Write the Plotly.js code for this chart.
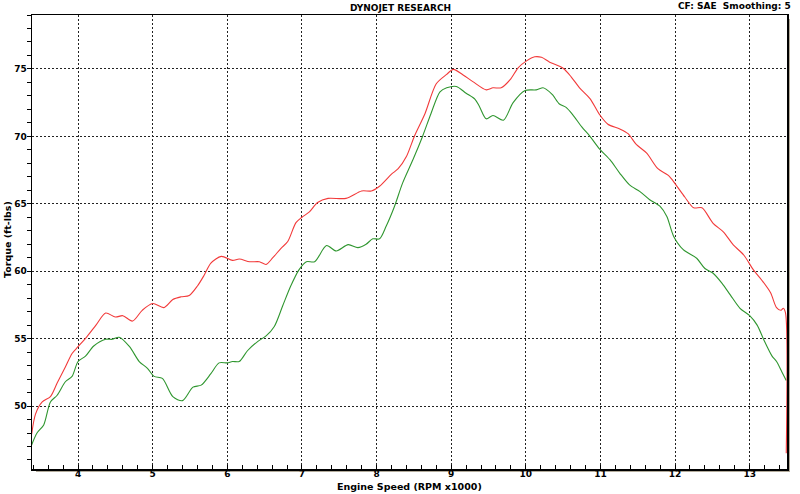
<!DOCTYPE html>
<html>
<head>
<meta charset="utf-8">
<script src="https://cdn.plot.ly/plotly-3.0.1.min.js"></script>
<style>html,body{margin:0;padding:0;background:#fff;}#chart{width:800px;height:494px;}</style>
</head>
<body>
<div id="chart"></div>
<script>
// Run 1 (red)
const rpmRed = [3.378,3.43,3.52,3.63,3.72,3.83,3.92,4.0,4.12,4.24,4.37,4.5,4.6,4.73,4.86,5.0,5.15,5.27,5.38,5.49,5.6,5.69,5.78,5.92,6.07,6.16,6.3,6.43,6.52,6.61,6.72,6.81,6.92,7.0,7.1,7.21,7.35,7.59,7.8,7.93,8.04,8.2,8.29,8.4,8.51,8.65,8.8,8.94,9.03,9.16,9.29,9.47,9.56,9.67,9.79,9.9,10.01,10.12,10.21,10.32,10.5,10.61,10.72,10.86,10.99,11.1,11.26,11.37,11.48,11.62,11.77,11.91,12.0,12.13,12.25,12.36,12.51,12.65,12.78,12.92,13.05,13.16,13.28,13.36,13.42,13.45,13.48,13.49];
const torqueRed = [47.9,49.4,50.3,50.7,51.7,52.9,53.9,54.4,55.15,56.0,56.9,56.6,56.7,56.3,57.1,57.6,57.3,57.9,58.1,58.2,58.9,59.7,60.6,61.1,60.8,60.9,60.7,60.7,60.5,61.0,61.7,62.2,63.6,64.0,64.4,65.1,65.4,65.4,65.95,65.95,66.3,67.2,67.6,68.5,70.05,71.7,73.9,74.6,74.97,74.55,74.06,73.45,73.6,73.6,74.2,75.1,75.6,75.9,75.86,75.5,75.05,74.4,73.6,72.8,71.6,70.9,70.55,70.2,69.4,68.75,67.6,67.1,66.5,65.5,64.7,64.7,63.55,62.9,61.95,61.2,60.1,59.35,58.4,57.3,57.1,57.25,56.9,46.5];
// Run 2 (green)
const rpmGreen = [3.37,3.45,3.54,3.63,3.72,3.83,3.92,4.0,4.1,4.21,4.37,4.46,4.55,4.69,4.82,4.93,5.02,5.13,5.27,5.4,5.54,5.65,5.78,5.89,6.0,6.07,6.16,6.27,6.41,6.52,6.63,6.74,6.85,6.96,7.06,7.17,7.33,7.46,7.62,7.75,7.86,7.95,8.04,8.13,8.24,8.35,8.49,8.62,8.73,8.85,8.94,9.07,9.2,9.32,9.38,9.47,9.56,9.7,9.83,9.99,10.14,10.23,10.27,10.36,10.45,10.54,10.63,10.75,10.86,10.99,11.13,11.26,11.39,11.53,11.66,11.8,11.89,11.98,12.11,12.29,12.4,12.51,12.63,12.74,12.87,13.0,13.1,13.19,13.3,13.36,13.43,13.49];
const torqueGreen = [47.0,48.0,48.6,50.3,50.8,51.8,52.2,53.3,53.7,54.45,54.95,54.95,55.1,54.4,53.3,52.8,52.2,52.05,50.7,50.4,51.4,51.55,52.4,53.2,53.2,53.3,53.3,54.1,54.8,55.2,55.9,57.4,58.9,60.1,60.7,60.7,61.9,61.5,61.97,61.75,62.0,62.4,62.4,63.35,64.8,66.55,68.3,70.05,71.7,73.3,73.6,73.7,73.2,72.75,72.2,71.3,71.55,71.2,72.5,73.4,73.45,73.6,73.5,73.07,72.4,72.15,71.6,70.7,70.0,69.05,68.25,67.26,66.4,65.9,65.3,64.8,64.05,62.6,61.6,60.96,60.2,59.85,59.1,58.24,57.25,56.7,56.0,54.9,53.7,53.3,52.55,51.9];

const xTickVals = [4,5,6,7,8,9,10,11,12,13];
const yTickVals = [50,55,60,65,70,75];

const FONT = 'Tahoma, "DejaVu Sans", Verdana, sans-serif';

const traces = [
  {x: rpmGreen, y: torqueGreen, type: 'scatter', mode: 'lines', line: {color: '#2f962f', width: 1.1, shape: 'spline', smoothing: 0.8}, hoverinfo: 'skip'},
  {x: rpmRed, y: torqueRed, type: 'scatter', mode: 'lines', line: {color: '#f23a3a', width: 1.1, shape: 'spline', smoothing: 0.8}, hoverinfo: 'skip'}
];

const W = 755, H = 454;
const layout = {
  width: 800, height: 494,
  margin: {l: 32, r: 13, t: 15, b: 25},
  paper_bgcolor: '#ffffff',
  plot_bgcolor: 'rgba(0,0,0,0)',
  showlegend: false,
  font: {family: FONT, size: 9, color: '#000', weight: 'bold'},
  xaxis: {
    range: [3.383, 13.5],
    tickvals: xTickVals,
    ticktext: xTickVals.map(String),
    ticks: 'inside', ticklen: 4, tickcolor: '#000', tickwidth: 1,
    minor: {dtick: 0.2, tick0: 4, ticks: 'inside', ticklen: 4, tickcolor: '#000', showgrid: false},
    showgrid: true, gridcolor: '#222', gridwidth: 1, griddash: '2px,2px',
    showline: true, linecolor: '#000', linewidth: 1.5, mirror: true,
    zeroline: false,
    tickfont: {family: FONT, size: 9, color: '#000', weight: 'bold'},
    ticklabelstandoff: -4
  },
  yaxis: {
    range: [45.33, 79.0],
    tickvals: yTickVals,
    ticktext: yTickVals.map(String),
    ticks: 'outside', ticklen: 4, tickcolor: '#000', tickwidth: 1,
    minor: {dtick: 1, tick0: 45, ticks: 'outside', ticklen: 4, tickcolor: '#000', showgrid: false},
    showgrid: true, gridcolor: '#222', gridwidth: 1, griddash: '2px,2px',
    showline: true, linecolor: '#000', linewidth: 1.5, mirror: true,
    zeroline: false,
    tickfont: {family: FONT, size: 9, color: '#000', weight: 'bold'},
    ticklabelstandoff: -2
  },
  shapes: [
    {type: 'rect', xref: 'paper', yref: 'paper', layer: 'below',
     x0: 4 / W, x1: 1 + 3 / W, y0: -3 / H, y1: 1 - 4 / H,
     fillcolor: '#b3ab9b', line: {width: 0}},
    {type: 'rect', xref: 'paper', yref: 'paper', layer: 'below',
     x0: 0, x1: 1, y0: 0, y1: 1,
     fillcolor: '#ffffff', line: {width: 0}}
  ],
  annotations: [
    {text: 'DYNOJET RESEARCH', xref: 'paper', yref: 'paper', x: (400 - 32) / W, y: 1 + (15 - 8) / H,
     xanchor: 'center', yanchor: 'middle', showarrow: false,
     font: {family: FONT, size: 9, color: '#000', weight: 'bold'}},
    {text: 'CF: SAE&nbsp;&nbsp;Smoothing: 5', xref: 'paper', yref: 'paper', x: (793 - 32) / W, y: 1 + (15 - 6) / H,
     xanchor: 'right', yanchor: 'middle', showarrow: false,
     font: {family: FONT, size: 9, color: '#000', weight: 'bold'}},
    {text: 'Engine Speed (RPM x1000)', xref: 'paper', yref: 'paper', x: 0.5, y: 1 - (486 - 15) / H,
     xanchor: 'center', yanchor: 'middle', showarrow: false,
     font: {family: FONT, size: 9.5, color: '#000', weight: 'bold'}},
    {text: 'Torque (ft-lbs)', xref: 'paper', yref: 'paper', x: (8 - 32) / W, y: 1 - (240 - 15) / H,
     xanchor: 'center', yanchor: 'middle', textangle: -90, showarrow: false,
     font: {family: FONT, size: 9.5, color: '#000', weight: 'bold'}}
  ]
};

Plotly.newPlot('chart', traces, layout, {staticPlot: true, displayModeBar: false});
</script>
</body>
</html>
